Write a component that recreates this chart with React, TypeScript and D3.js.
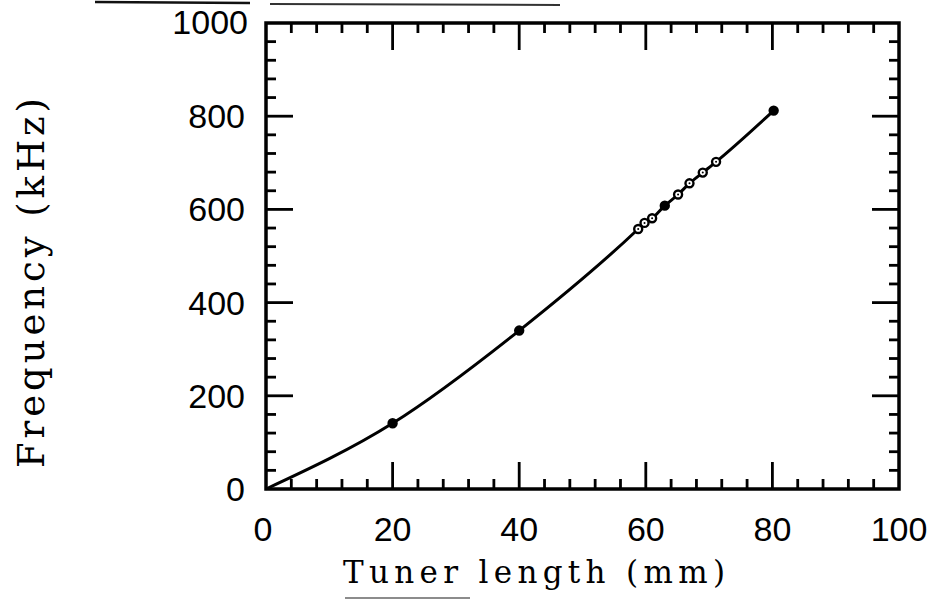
import React from "react";
import * as d3 from "d3";

const lengthMm = [20, 40, 58.8, 59.8, 61, 63, 65.1, 66.9, 69, 71.1, 80.2];
const freqKHz = [141, 340, 558, 571, 581, 608, 632, 656, 679, 702, 812];
const markerKind = ["filled", "filled", "open", "open", "open", "filled", "open", "open", "open", "open", "filled"];
const xTickLabels = [0, 20, 40, 60, 80, 100];
const yTickLabels = [0, 200, 400, 600, 800, 1000];

const W = 931;
const H = 602;
const L = 266, R = 899, T = 23, B = 489;

export default function App() {
  const x = d3.scaleLinear().domain([0, 100]).range([L, R]);
  const y = d3.scaleLinear().domain([0, 1000]).range([B, T]);
  const xMinor = d3.range(0, 101, 4).filter((v) => v % 20 !== 0);
  const yMinor = d3.range(0, 1001, 40).filter((v) => v % 200 !== 0);
  const pts: [number, number][] = [[0, 0], ...lengthMm.map((v, i) => [v, freqKHz[i]] as [number, number])];
  const line = d3
    .line<[number, number]>()
    .x((d) => x(d[0]))
    .y((d) => y(d[1]))
    .curve(d3.curveMonotoneX);
  const maj = 27, min = 10;
  const tickFont = "'Liberation Sans', Arial, sans-serif";
  const titleFont = "'DejaVu Serif', serif";
  return (
    <svg width={W} height={H} style={{ position: "absolute", left: 0, top: 0, background: "#fff" }}>
      {/* scan artifacts */}
      <line x1={95} x2={250} y1={2} y2={3} stroke="#111" strokeWidth={2.5} />
      <line x1={270} x2={560} y1={4} y2={5} stroke="#333" strokeWidth={2} />
      <line x1={345} x2={470} y1={598} y2={598} stroke="#666" strokeWidth={1.5} />

      {/* ticks */}
      <g stroke="#000" strokeWidth={2.8}>
        {xTickLabels.slice(1, -1).map((v) => (
          <g key={"xm" + v}>
            <line x1={x(v)} x2={x(v)} y1={B} y2={B - maj} />
            <line x1={x(v)} x2={x(v)} y1={T} y2={T + maj} />
          </g>
        ))}
        {xMinor.map((v) => (
          <g key={"xn" + v}>
            <line x1={x(v)} x2={x(v)} y1={B} y2={B - min} />
            <line x1={x(v)} x2={x(v)} y1={T} y2={T + min} />
          </g>
        ))}
        {yTickLabels.slice(1, -1).map((v) => (
          <g key={"ym" + v}>
            <line x1={L} x2={L + maj} y1={y(v)} y2={y(v)} />
            <line x1={R} x2={R - maj} y1={y(v)} y2={y(v)} />
          </g>
        ))}
        {yMinor.map((v) => (
          <g key={"yn" + v}>
            <line x1={L} x2={L + min} y1={y(v)} y2={y(v)} />
            <line x1={R} x2={R - min} y1={y(v)} y2={y(v)} />
          </g>
        ))}
      </g>
      <rect x={L} y={T} width={R - L} height={B - T} fill="none" stroke="#000" strokeWidth={3.5} />

      {/* curve */}
      <path d={line(pts) || ""} fill="none" stroke="#000" strokeWidth={3} />
      {lengthMm.map((v, i) => (
        <g key={"p" + i}>
          <circle
            cx={x(v)}
            cy={y(freqKHz[i])}
            r={4}
            fill={markerKind[i] === "filled" ? "#000" : "#fff"}
            stroke="#000"
            strokeWidth={2.4}
          />
          {markerKind[i] === "open" && <circle cx={x(v)} cy={y(freqKHz[i])} r={1} fill="#000" />}
        </g>
      ))}

      {/* tick labels */}
      <g fontFamily={tickFont} fontSize={34} fill="#000">
        {xTickLabels.map((v) => (
          <text key={"xl" + v} x={x(v) - (v === 0 ? 3 : 0)} y={541} textAnchor="middle">
            {v}
          </text>
        ))}
        {yTickLabels.map((v) => (
          <text key={"yl" + v} x={v === 1000 ? 248 : 245} y={y(v) + 12 - (v === 1000 ? 1 : 0)} textAnchor="end">
            {v}
          </text>
        ))}
      </g>

      {/* titles */}
      <text
        x={343}
        y={583}
        fontFamily={titleFont}
        fontSize={31}
        textLength={382}
        lengthAdjust="spacing"
        fill="#000"
      >
        Tuner length (mm)
      </text>
      <text
        transform={`translate(44, 468) rotate(-90)`}
        x={0}
        y={0}
        fontFamily={titleFont}
        fontSize={37}
        textLength={370}
        lengthAdjust="spacing"
        fill="#000"
      >
        Frequency (kHz)
      </text>
    </svg>
  );
}
